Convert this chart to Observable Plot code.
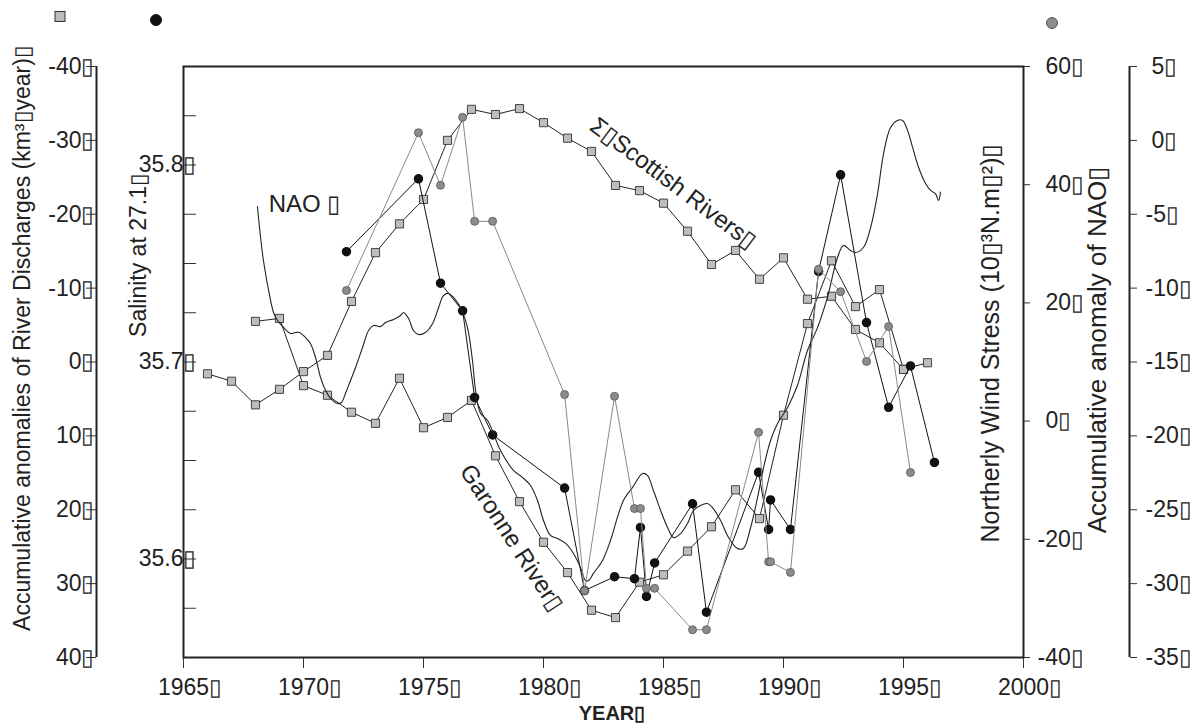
<!DOCTYPE html>
<html><head><meta charset="utf-8">
<script src="https://cdn.jsdelivr.net/npm/d3@7"></script>
<script src="https://cdn.jsdelivr.net/npm/@observablehq/plot@0.6"></script>
<style>
body{margin:0;background:#fff;font-family:"Liberation Sans",Arial,sans-serif;}
#wrap{position:relative;width:1195px;height:725px;overflow:hidden;}
#wrap svg{position:absolute;left:0;top:0;}
</style></head><body><div id="wrap"></div>
<script>
const BOX = "\u25AF";
// Gray squares: accumulative anomalies of river discharges (km3/year)
const scotYears = [1966,1967,1968,1969,1970,1971,1972,1973,1974,1975,1976,1977,1978,1979,1980,1981,1982,1983,1984,1985,1986,1987,1988,1989,1990,1991,1992,1993,1994,1995,1996];
const scotValues = [1.6,2.6,5.8,3.7,1.3,-0.9,-8.2,-14.8,-18.7,-22.0,-30.0,-34.2,-33.5,-34.3,-32.4,-30.3,-28.5,-23.9,-23.2,-21.5,-17.7,-13.2,-15.1,-11.2,-14.1,-8.5,-8.9,-4.4,-2.6,1.0,0.1];
const garYears = [1968,1969,1970,1971,1972,1973,1974,1975,1976,1977,1978,1979,1980,1981,1982,1983,1984,1985,1986,1987,1988,1989,1990,1991,1992,1993,1994,1995];
const garValues = [-5.5,-5.9,3.2,4.5,6.8,8.3,2.2,8.9,7.5,5.2,12.7,18.9,24.4,28.5,33.6,34.6,29.8,28.8,25.6,22.3,17.3,21.2,7.2,-5.2,-13.7,-7.5,-9.8,1.0];
// Black circles: salinity at sigma 27.1
const salYears = [1971.79,1974.79,1975.71,1976.63,1977.13,1977.88,1980.88,1981.71,1982.96,1983.79,1984.04,1984.29,1984.63,1986.21,1986.79,1988.96,1989.38,1989.46,1990.29,1991.46,1992.38,1993.46,1994.38,1995.29,1996.29];
const salValues = [35.756,35.793,35.740,35.726,35.682,35.663,35.636,35.584,35.591,35.590,35.616,35.581,35.598,35.628,35.573,35.644,35.615,35.630,35.615,35.746,35.795,35.720,35.677,35.698,35.649];
// Gray circles: northerly wind stress (10^-3 N m^-2)
const windYears = [1971.79,1974.79,1975.71,1976.63,1977.13,1977.88,1980.88,1981.71,1982.96,1983.79,1984.04,1984.29,1984.63,1986.21,1986.79,1988.96,1989.38,1989.46,1990.29,1991.46,1992.38,1993.46,1994.38,1995.29];
const windValues = [22.1,48.8,39.9,51.4,33.8,33.8,4.5,-28.7,4.2,-14.8,-14.8,-28.3,-28.3,-35.3,-35.3,-1.9,-23.8,-23.8,-25.6,25.7,21.9,10.1,16.0,-8.7];
// Smooth line: accumulative anomaly of NAO
const naoYears = [1968.08,1968.33,1968.63,1968.75,1968.92,1969.17,1969.46,1969.67,1969.83,1970.08,1970.29,1970.50,1970.71,1970.92,1971.13,1971.42,1971.58,1971.75,1971.96,1972.17,1972.46,1972.71,1972.92,1973.21,1973.42,1973.75,1974.04,1974.17,1974.38,1974.58,1974.79,1975.08,1975.38,1975.63,1975.83,1976.04,1976.25,1976.54,1976.83,1977.04,1977.17,1977.38,1977.67,1978.21,1978.75,1979.13,1979.46,1979.75,1980.00,1980.29,1980.58,1980.92,1981.25,1981.54,1981.75,1981.88,1982.08,1982.46,1982.79,1983.08,1983.33,1983.71,1984.13,1984.33,1984.58,1984.88,1985.17,1985.42,1985.71,1986.00,1986.25,1986.54,1986.83,1987.04,1987.38,1987.71,1988.08,1988.33,1988.63,1988.92,1989.17,1989.46,1989.75,1990.17,1990.58,1991.00,1991.42,1991.83,1992.25,1992.50,1992.79,1993.00,1993.33,1993.63,1993.92,1994.17,1994.46,1994.75,1994.96,1995.17,1995.38,1995.63,1995.92,1996.13,1996.33,1996.46,1996.54];
const naoValues = [-4.48,-8.13,-10.84,-11.65,-12.19,-12.66,-13.07,-13.00,-13.00,-13.34,-13.75,-14.69,-16.05,-16.93,-17.47,-17.81,-17.74,-17.13,-16.25,-15.37,-14.02,-12.87,-12.53,-12.60,-12.33,-12.12,-11.85,-11.65,-12.06,-12.87,-13.14,-13.00,-12.39,-11.31,-10.50,-10.36,-10.63,-11.31,-12.66,-14.90,-16.93,-18.49,-18.96,-20.99,-22.34,-22.82,-23.36,-24.37,-25.73,-26.74,-26.95,-27.28,-27.96,-28.91,-29.79,-29.79,-29.31,-28.43,-27.08,-25.52,-24.37,-23.49,-22.55,-22.68,-23.70,-25.05,-26.20,-26.88,-26.61,-25.93,-25.05,-24.71,-24.58,-24.85,-25.73,-26.88,-27.62,-27.62,-26.20,-24.17,-22.14,-20.31,-19.16,-18.08,-16.59,-14.22,-12.66,-10.63,-7.93,-7.11,-7.45,-7.59,-7.25,-5.90,-3.60,-0.89,0.87,1.35,1.35,0.67,-0.48,-1.84,-2.92,-3.39,-3.60,-4.07,-3.5];
// Tick values / labels
const yearTicks = [1965,1970,1975,1980,1985,1990,1995,2000];
const dischargeTicks = [-40,-30,-20,-10,0,10,20,30,40];
const salinityTicks = [35.55,35.575,35.6,35.625,35.65,35.675,35.7,35.725,35.75,35.775,35.8,35.825,35.85];
const salinityLabels = [35.6,35.7,35.8];
const windTicks = [-40,-20,0,20,40,60];
const naoTicks = [5,0,-5,-10,-15,-20,-25,-30,-35];
// Text
const titles = {
  discharge: "Accumulative anomalies of River Discharges (km\u00B3" + BOX + "year)" + BOX,
  salinity: "Salinity at 27.1" + BOX,
  wind: "Northerly Wind Stress (10" + BOX + "\u00B3N.m" + BOX + "\u00B2)" + BOX,
  nao: "Accumulative anomaly of NAO" + BOX,
  year: "YEAR" + BOX
};
const naoNote = [{text: "NAO " + BOX, year: 1968.55, value: -4.3}];
const riverNotes = [
  {text: "\u03A3" + BOX + "Scottish Rivers" + BOX, year: 1985.4, value: -24.2, rotate: 37},
  {text: "Garonne River" + BOX, year: 1978.67, value: 23.8, rotate: 57}
];

const W = 1195, H = 725, ML = 183, MR = 172, MT = 66, MB = 68;
const FONT = "Liberation Sans, Arial, sans-serif";
const base = {width: W, height: H, marginLeft: ML, marginRight: MR, marginTop: MT, marginBottom: MB,
  style: {background: "none", fontFamily: FONT, fontSize: "23px", color: "#222"}};
const xs = {domain: [1965, 2000], axis: null};
const fmt = v => v + BOX;
const wrap = document.getElementById("wrap");
const add = p => wrap.appendChild(p);

const sal = salYears.map((x, i) => ({x, y: salValues[i]}));
const wind = windYears.map((x, i) => ({x, y: windValues[i]}));
const scot = scotYears.map((x, i) => ({x, y: scotValues[i]}));
const gar = garYears.map((x, i) => ({x, y: garValues[i]}));
const nao = naoYears.map((x, i) => ({x, y: naoValues[i]}));
const pos = t => t.filter(v => v >= 0), neg = t => t.filter(v => v < 0);

// Layer: river discharges (gray squares)
add(Plot.plot({...base, x: xs, y: {domain: [-40, 40], reverse: true, axis: null},
  marks: [
    Plot.line(scot, {x: "x", y: "y", stroke: "#222", strokeWidth: 1}),
    Plot.line(gar, {x: "x", y: "y", stroke: "#222", strokeWidth: 1}),
    Plot.dot(scot, {x: "x", y: "y", symbol: "square", r: 4.6, fill: "#bdbdbd", stroke: "#333", strokeWidth: 0.9}),
    Plot.dot(gar, {x: "x", y: "y", symbol: "square", r: 4.6, fill: "#bdbdbd", stroke: "#333", strokeWidth: 0.9}),
    Plot.text(riverNotes, {x: "year", y: "value", text: "text", rotate: "rotate", fontSize: 24, fill: "#222", textAnchor: "middle"})
  ]}));

// Layer: salinity (black circles) + frame + x axis + salinity axis
add(Plot.plot({...base, x: {domain: [1965, 2000], axis: null}, y: {domain: [35.55, 35.85], axis: null},
  marks: [
    Plot.line(sal, {x: "x", y: "y", stroke: "#111", strokeWidth: 1}),
    Plot.dot(sal, {x: "x", y: "y", r: 4, fill: "#111", stroke: "#111"}),
    Plot.axisX({ticks: yearTicks, tickSize: 11, tickFormat: () => "", label: null, stroke: "#333"}),
    Plot.text(yearTicks, {x: d => d, text: fmt, frameAnchor: "bottom", lineAnchor: "top", textAnchor: "start", dy: 21, dx: -25.5, fontSize: 23, fill: "#222"}),
    Plot.axisY({ticks: salinityTicks, tickSize: -13, tickFormat: () => "", label: null, stroke: "#333"}),
    Plot.text(salinityLabels, {y: d => d, text: v => v.toFixed(1) + BOX, frameAnchor: "left", textAnchor: "end", dx: 13, fontSize: 23, fill: "#222"}),
    Plot.frame({stroke: "#222", strokeWidth: 2})
  ]}));

// Layer: NAO (smooth curve)
add(Plot.plot({...base, x: xs, y: {domain: [-35, 5], axis: null},
  marks: [
    Plot.line(nao, {x: "x", y: "y", stroke: "#222", strokeWidth: 1.1, curve: "catmull-rom"}),
    Plot.text(naoNote, {x: "year", y: "value", text: "text", fontSize: 24, fill: "#222", textAnchor: "start"})
  ]}));

// Layer: wind stress (gray circles) + right axis
add(Plot.plot({...base, x: xs, y: {domain: [-40, 60], axis: null},
  marks: [
    Plot.line(wind, {x: "x", y: "y", stroke: "#8a8a8a", strokeWidth: 1}),
    Plot.dot(wind, {x: "x", y: "y", r: 4, fill: "#8c8c8c", stroke: "#555", strokeWidth: 0.8}),
    Plot.axisY({anchor: "right", ticks: windTicks, tickSize: 6, tickFormat: () => "", label: null, stroke: "#333"}),
    Plot.text(pos(windTicks), {y: d => d, text: fmt, frameAnchor: "right", textAnchor: "start", dx: 22, fontSize: 23, fill: "#222"}),
    Plot.text(neg(windTicks), {y: d => d, text: fmt, frameAnchor: "right", textAnchor: "start", dx: 14, fontSize: 23, fill: "#222"})
  ]}));

// Outer left axis (discharges)
add(Plot.plot({width: W, height: H, marginLeft: 96, marginRight: W - 97, marginTop: MT, marginBottom: MB,
  style: base.style, x: {domain: [0, 1], axis: null}, y: {domain: [-40, 40], reverse: true, axis: null},
  marks: [
    Plot.ruleX([0], {stroke: "#222", strokeWidth: 2}),
    Plot.axisY({anchor: "left", ticks: dischargeTicks, tickSize: 10, tickPadding: -8, tickFormat: fmt, label: null, stroke: "#333"})
  ]}));

// Outer right axis (NAO)
add(Plot.plot({width: W, height: H, marginLeft: 1128, marginRight: W - 1129, marginTop: MT, marginBottom: MB,
  style: base.style, x: {domain: [0, 1], axis: null}, y: {domain: [-35, 5], axis: null},
  marks: [
    Plot.ruleX([1], {stroke: "#222", strokeWidth: 2}),
    Plot.axisY({anchor: "right", ticks: naoTicks, tickSize: 7, tickFormat: () => "", label: null, stroke: "#333"}),
    Plot.text(pos(naoTicks), {y: d => d, text: fmt, frameAnchor: "right", textAnchor: "start", dx: 22, fontSize: 23, fill: "#222"}),
    Plot.text(neg(naoTicks), {y: d => d, text: fmt, frameAnchor: "right", textAnchor: "start", dx: 16, fontSize: 23, fill: "#222"})
  ]}));

// Titles and legend symbols (HTML/SVG overlay)
const ns = "http://www.w3.org/2000/svg";
const svg = document.createElementNS(ns, "svg");
svg.setAttribute("width", W); svg.setAttribute("height", H);
svg.style.fontFamily = FONT;
function txt(s, x, y, size, rot, extra) {
  const t = document.createElementNS(ns, "text");
  t.textContent = s;
  t.setAttribute("transform", `translate(${x},${y}) rotate(${rot})`);
  t.setAttribute("text-anchor", "middle");
  t.setAttribute("dominant-baseline", "central");
  t.setAttribute("font-size", size);
  t.setAttribute("fill", "#222");
  if (extra) for (const k in extra) t.setAttribute(k, extra[k]);
  svg.appendChild(t);
}
txt(titles.discharge, 22, 338, 23, -90);
txt(titles.salinity, 138, 255, 23, -90);
txt(titles.wind, 990, 343, 25, -90);
txt(titles.nao, 1097, 350, 26, -90);
txt(titles.year, 612, 713, 20, 0, {"font-weight": "bold"});
const sq = document.createElementNS(ns, "rect");
Object.entries({x: 55, y: 11.5, width: 10, height: 10, fill: "#bdbdbd", stroke: "#333", "stroke-width": 1}).forEach(([k, v]) => sq.setAttribute(k, v));
svg.appendChild(sq);
[[156, 20, "#111", "#111"], [1052, 23, "#8c8c8c", "#555"]].forEach(([cx, cy, f, s]) => {
  const c = document.createElementNS(ns, "circle");
  c.setAttribute("cx", cx); c.setAttribute("cy", cy); c.setAttribute("r", 5.5);
  c.setAttribute("fill", f); c.setAttribute("stroke", s);
  svg.appendChild(c);
});
wrap.appendChild(svg);
</script></body></html>
